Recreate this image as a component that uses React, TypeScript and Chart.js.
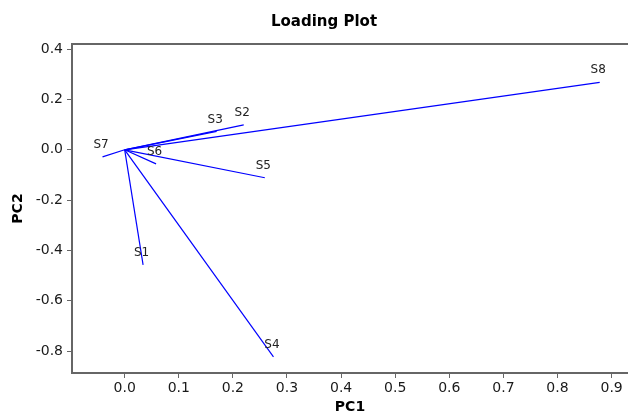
import React, { useEffect, useRef } from "react";
import { Chart, registerables } from "chart.js";

Chart.register(...registerables);

const names = ["S1", "S2", "S3", "S4", "S5", "S6", "S7", "S8"];
const pc1 = [0.034, 0.22, 0.17, 0.275, 0.259, 0.058, -0.041, 0.878];
const pc2 = [-0.457, 0.099, 0.073, -0.823, -0.111, -0.056, -0.028, 0.268];

const xTicks = [0.0, 0.1, 0.2, 0.3, 0.4, 0.5, 0.6, 0.7, 0.8, 0.9];
const yTicks = [-0.8, -0.6, -0.4, -0.2, 0.0, 0.2, 0.4];

const X_MIN = -0.0974;
const X_MAX = 0.9303;
const Y_MIN = -0.8867;
const Y_MAX = 0.4203;

const FONT = "'DejaVu Sans', Verdana, sans-serif";
const AXIS = "#666666";

export default function App() {
  const ref = useRef<HTMLCanvasElement | null>(null);

  useEffect(() => {
    if (!ref.current) return;

    const datasets = names.map((n, i) => ({
      label: n,
      data: [
        { x: 0, y: 0 },
        { x: pc1[i], y: pc2[i] },
      ],
      showLine: true,
      borderColor: "#0000ff",
      backgroundColor: "#0000ff",
      borderWidth: 1.2,
      pointRadius: 0,
      pointHoverRadius: 0,
      xAxisID: "x",
      yAxisID: "y",
    }));

    const annot = {
      id: "annot",
      afterDatasetsDraw(chart: any) {
        const ctx = chart.ctx;
        ctx.save();
        ctx.fillStyle = "#222222";
        ctx.font = `12px ${FONT}`;
        ctx.textAlign = "center";
        ctx.textBaseline = "middle";
        names.forEach((n, i) => {
          const meta = chart.getDatasetMeta(i);
          const pt = meta.data[1];
          if (pt) ctx.fillText(n, pt.x - 1.5, pt.y - 12);
        });
        ctx.fillStyle = "#000000";
        ctx.font = `bold 15px ${FONT}`;
        ctx.fillText("Loading Plot", 324, 22);
        ctx.restore();
      },
    };

    const chart = new Chart(ref.current, {
      type: "scatter",
      data: { datasets },
      plugins: [annot],
      options: {
        animation: false,
        responsive: false,
        layout: { padding: { top: 44, left: 0, right: 0, bottom: 0 } },
        plugins: {
          legend: { display: false },
          tooltip: { enabled: false },
          title: { display: false },
        },
        scales: {
          x: {
            type: "linear",
            position: "bottom",
            min: X_MIN,
            max: X_MAX,
            afterBuildTicks: (s: any) => {
              s.ticks = xTicks.map((v) => ({ value: v }));
            },
            afterFit: (s: any) => {
              s.height = 41;
            },
            ticks: {
              callback: (v: any) => Number(v).toFixed(1),
              font: { family: FONT, size: 14 },
              color: "#1a1a1a",
              padding: 2,
              maxRotation: 0,
            },
            grid: {
              drawOnChartArea: false,
              drawTicks: true,
              tickLength: 5,
              tickColor: AXIS,
              tickWidth: 1,
              lineWidth: 1,
              color: AXIS,
            },
            border: { display: true, color: AXIS, width: 2 },
            title: {
              display: true,
              text: "PC1",
              color: "#000000",
              font: { family: FONT, size: 14, weight: "bold", lineHeight: 1 },
              padding: { top: 0, bottom: 0 },
            },
          },
          x2: {
            type: "linear",
            position: "top",
            min: X_MIN,
            max: X_MAX,
            afterFit: (s: any) => {
              s.height = 0;
            },
            ticks: { display: false },
            grid: { drawOnChartArea: false, drawTicks: false },
            border: { display: true, color: AXIS, width: 2 },
          },
          y: {
            type: "linear",
            position: "left",
            min: Y_MIN,
            max: Y_MAX,
            afterBuildTicks: (s: any) => {
              s.ticks = yTicks.map((v) => ({ value: v }));
            },
            afterFit: (s: any) => {
              s.width = 72;
            },
            ticks: {
              callback: (v: any) => Number(v).toFixed(1),
              font: { family: FONT, size: 14 },
              color: "#1a1a1a",
              padding: 4,
            },
            grid: {
              drawOnChartArea: false,
              drawTicks: true,
              tickLength: 5,
              tickColor: AXIS,
              tickWidth: 1,
              lineWidth: 1,
              color: AXIS,
            },
            border: { display: true, color: AXIS, width: 2 },
            title: {
              display: true,
              text: "PC2",
              color: "#000000",
              font: { family: FONT, size: 14, weight: "bold", lineHeight: 1 },
              padding: { top: 11, bottom: 0 },
            },
          },
        },
      },
    } as any);

    return () => chart.destroy();
  }, []);

  return (
    <canvas
      ref={ref}
      width={628}
      height={414}
      style={{ position: "absolute", left: 0, top: 0, width: 628, height: 414 }}
    />
  );
}
